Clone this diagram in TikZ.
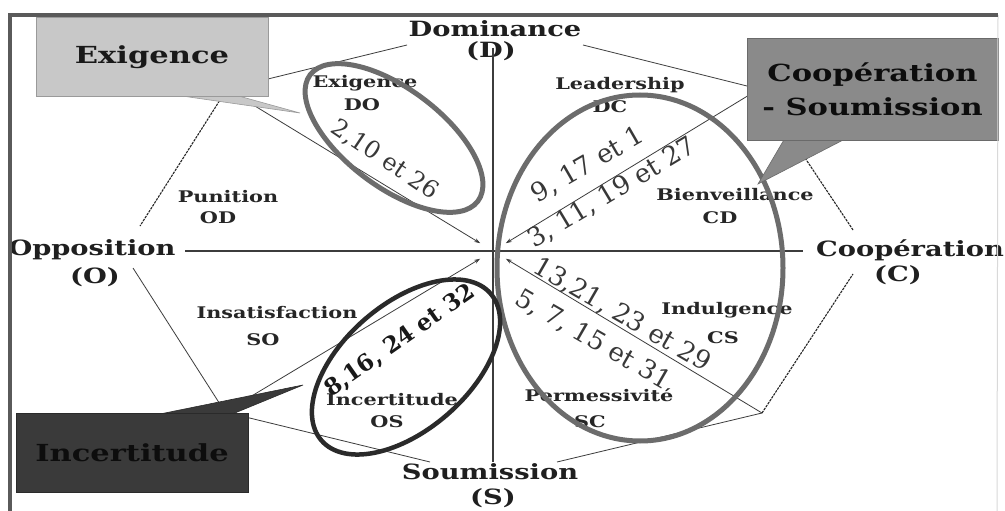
\documentclass[tikz,border=0pt]{standalone}
\usepackage{fontspec}
\setmainfont{DejaVu Serif}
\usetikzlibrary{arrows.meta,shapes.geometric}
\newcommand{\stretchtxt}[1]{\scalebox{1.3}[1]{#1}}
\definecolor{framegray}{HTML}{5A5A5A}
\definecolor{linegray}{HTML}{3C3C3C}
\definecolor{ellgray}{HTML}{6C6C6C}
\definecolor{elldark}{HTML}{2A2A2A}
\definecolor{numgray}{HTML}{383838}
\definecolor{boxAfill}{HTML}{C8C8C8}
\definecolor{boxAedge}{HTML}{9A9A9A}
\definecolor{boxBfill}{HTML}{8A8A8A}
\definecolor{boxBedge}{HTML}{6A6A6A}
\definecolor{boxCfill}{HTML}{3A3A3A}
\definecolor{boxCedge}{HTML}{2A2A2A}
\tikzset{
  axislbl/.style={font=\fontsize{21}{21}\selectfont\bfseries, text=black!88, inner sep=0pt},
  seclbl/.style={font=\fontsize{16}{16}\selectfont\bfseries, text=black!85, inner sep=0pt},
  numlbl/.style={font=\fontsize{26}{26}\selectfont, text=numgray, inner sep=0pt},
  numbold/.style={font=\fontsize{23}{23}\selectfont\bfseries, text=black!90, inner sep=0pt},
  edgeline/.style={draw=linegray, line width=0.8pt},
  dotline/.style={draw=black!85, line width=1.1pt, dash pattern=on 2.5pt off 1pt},
  axisline/.style={draw=linegray, line width=1.3pt},
  diagline/.style={draw=linegray, line width=0.8pt, shorten >=15pt, -{Stealth[length=6pt,width=4pt]}},
  ring/.style={ellipse, draw=ellgray, line width=5pt, inner sep=0pt, outer sep=0pt},
  ringdark/.style={ellipse, draw=elldark, line width=4.5pt, inner sep=0pt, outer sep=0pt},
  boxlbl/.style={font=\fontsize{23.5}{34}\selectfont\bfseries, inner sep=0pt, align=center},
}
\begin{document}
\begin{tikzpicture}[x=1pt,y=-1pt]
\useasboundingbox (0,0) rectangle (1005,511);
\fill[white] (0,0) rectangle (1005,511);
% key points
\coordinate (ctr) at (493,251);
\coordinate (vTL) at (227,89);
\coordinate (vTR) at (759,89);
\coordinate (vBR) at (762,413);
\coordinate (vBL) at (225,412);
\coordinate (eTl) at (407,45);
\coordinate (eTr) at (583,45);
\coordinate (eLt) at (140,226);
\coordinate (eLb) at (133,268);
\coordinate (eBl) at (430,462);
\coordinate (eBr) at (557,462);
\coordinate (eRb) at (853,274);
\coordinate (eRt) at (853,230);
\coordinate (aL) at (185,251);
\coordinate (aR) at (803,251);
\coordinate (aT) at (493,48);
\coordinate (aB) at (493,462);
% octagon edges
\draw[edgeline] (eTl) -- (vTL);
\draw[dotline] (vTL) -- (eLt);
\draw[edgeline] (eLb) -- (vBL) -- (eBl);
\draw[edgeline] (eBr) -- (vBR);
\draw[dotline] (vBR) -- (eRb);
\draw[dotline] (eRt) -- (vTR);
\draw[edgeline] (vTR) -- (eTr);
% diagonals
\draw[diagline] (vTL) -- (ctr);
\draw[diagline] (vTR) -- (ctr);
\draw[diagline] (vBL) -- (ctr);
\draw[diagline] (vBR) -- (ctr);
% axis labels
\node[axislbl] (lD) at (495,29) {\stretchtxt{Dominance}};
\node[axislbl] (lDs) at (491,51) {\stretchtxt{(D)}};
\node[axislbl] (lO) at (92,250) {\stretchtxt{Opposition}};
\node[axislbl] (lOs) at (95,277) {\stretchtxt{(O)}};
\node[axislbl] (lC) at (910,250) {\stretchtxt{Coopération}};
\node[axislbl] (lCs) at (898,275) {\stretchtxt{(C)}};
\node[axislbl] (lS) at (490,472) {\stretchtxt{Soumission}};
\node[axislbl] (lSs) at (493,498) {\stretchtxt{(S)}};
% axes
\draw[axisline] (aL) -- (aR);
\draw[axisline] (aT) -- (aB);
% sector labels
\node[seclbl] (sDO) at (365,83) {\stretchtxt{Exigence}};
\node[seclbl] (sDOc) at (362,105) {\stretchtxt{DO}};
\node[seclbl] (sDC) at (620,85) {\stretchtxt{Leadership}};
\node[seclbl] (sDCc) at (610,107) {\stretchtxt{DC}};
\node[seclbl] (sCD) at (735,195) {\stretchtxt{Bienveillance}};
\node[seclbl] (sCDc) at (720,218) {\stretchtxt{CD}};
\node[seclbl] (sOD) at (228,197) {\stretchtxt{Punition}};
\node[seclbl] (sODc) at (218,218) {\stretchtxt{OD}};
\node[seclbl] (sSO) at (277,313) {\stretchtxt{Insatisfaction}};
\node[seclbl] (sSOc) at (263,340) {\stretchtxt{SO}};
\node[seclbl] (sOS) at (392,400) {\stretchtxt{Incertitude}};
\node[seclbl] (sOSc) at (387,422) {\stretchtxt{OS}};
\node[seclbl] (sCS) at (727,310) {\stretchtxt{Indulgence}};
\node[seclbl] (sCSc) at (723,338) {\stretchtxt{CS}};
\node[seclbl] (sSC) at (599,395) {\stretchtxt{Permessivité}};
\node[seclbl] (sSCc) at (590,422) {\stretchtxt{SC}};
% item numbers
\node[numlbl, font=\fontsize{24}{24}\selectfont, rotate=-34] (n1) at (385,160) {2,10 et 26};
\node[numlbl, rotate=30] (n2) at (588,165) {9, 17 et 1};
\node[numlbl, rotate=31] (n3) at (612,193) {3, 11, 19 et 27};
\node[numlbl, rotate=-30] (n4) at (622,315) {13,21, 23 et 29};
\node[numlbl, rotate=-30] (n5) at (593,340) {5, 7, 15 et 31};
\node[numbold, rotate=35] (n6) at (400,341) {8,16, 24 et 32};
% ellipses
\node[ring, minimum width=210pt, minimum height=98pt, rotate=-37] (ellEx) at (394,138) {};
\node[ring, minimum width=286pt, minimum height=346pt] (ellCo) at (640,268) {};
\node[ringdark, minimum width=224pt, minimum height=126pt, rotate=41] (ellIn) at (406,367) {};
% callout pointers
\coordinate (pEx) at (300,113);
\coordinate (pCo) at (758,184);
\coordinate (pIn) at (303,385);
\fill[boxAfill, draw=boxAedge, line width=0.6pt] (175,95) -- (pEx) -- (235,95) -- cycle;
\fill[boxBfill, draw=boxBedge, line width=0.6pt] (785,138) -- (pCo) -- (847,138) -- cycle;
\fill[boxCfill, draw=boxCedge, line width=0.6pt] (155,415) -- (pIn) -- (230,415) -- cycle;
% callout boxes
\node[boxlbl, fill=boxAfill, draw=boxAedge, line width=1pt, minimum width=232pt, minimum height=79pt, text=black!90] (bEx) at (152,57.5) {\stretchtxt{Exigence}};
\node[boxlbl, fill=boxBfill, draw=boxBedge, line width=1pt, minimum width=251pt, minimum height=101pt, text=black!95] (bCo) at (872.5,89.5) {\stretchtxt{Coopération}\\\stretchtxt{- Soumission}};
\node[boxlbl, fill=boxCfill, draw=boxCedge, line width=1pt, minimum width=232pt, minimum height=79pt, text=black!95] (bIn) at (132,452.5) {\stretchtxt{Incertitude}};
% frame
\coordinate (fBL) at (10,511);
\coordinate (fTL) at (10,15);
\coordinate (fTR) at (998,15);
\coordinate (fBR) at (997,511);
\draw[black!15, line width=1pt] (fTR) -- (fBR);
\draw[framegray, line width=3.5pt] (fBL) -- (fTL) -- (fTR);
\end{tikzpicture}
\end{document}
